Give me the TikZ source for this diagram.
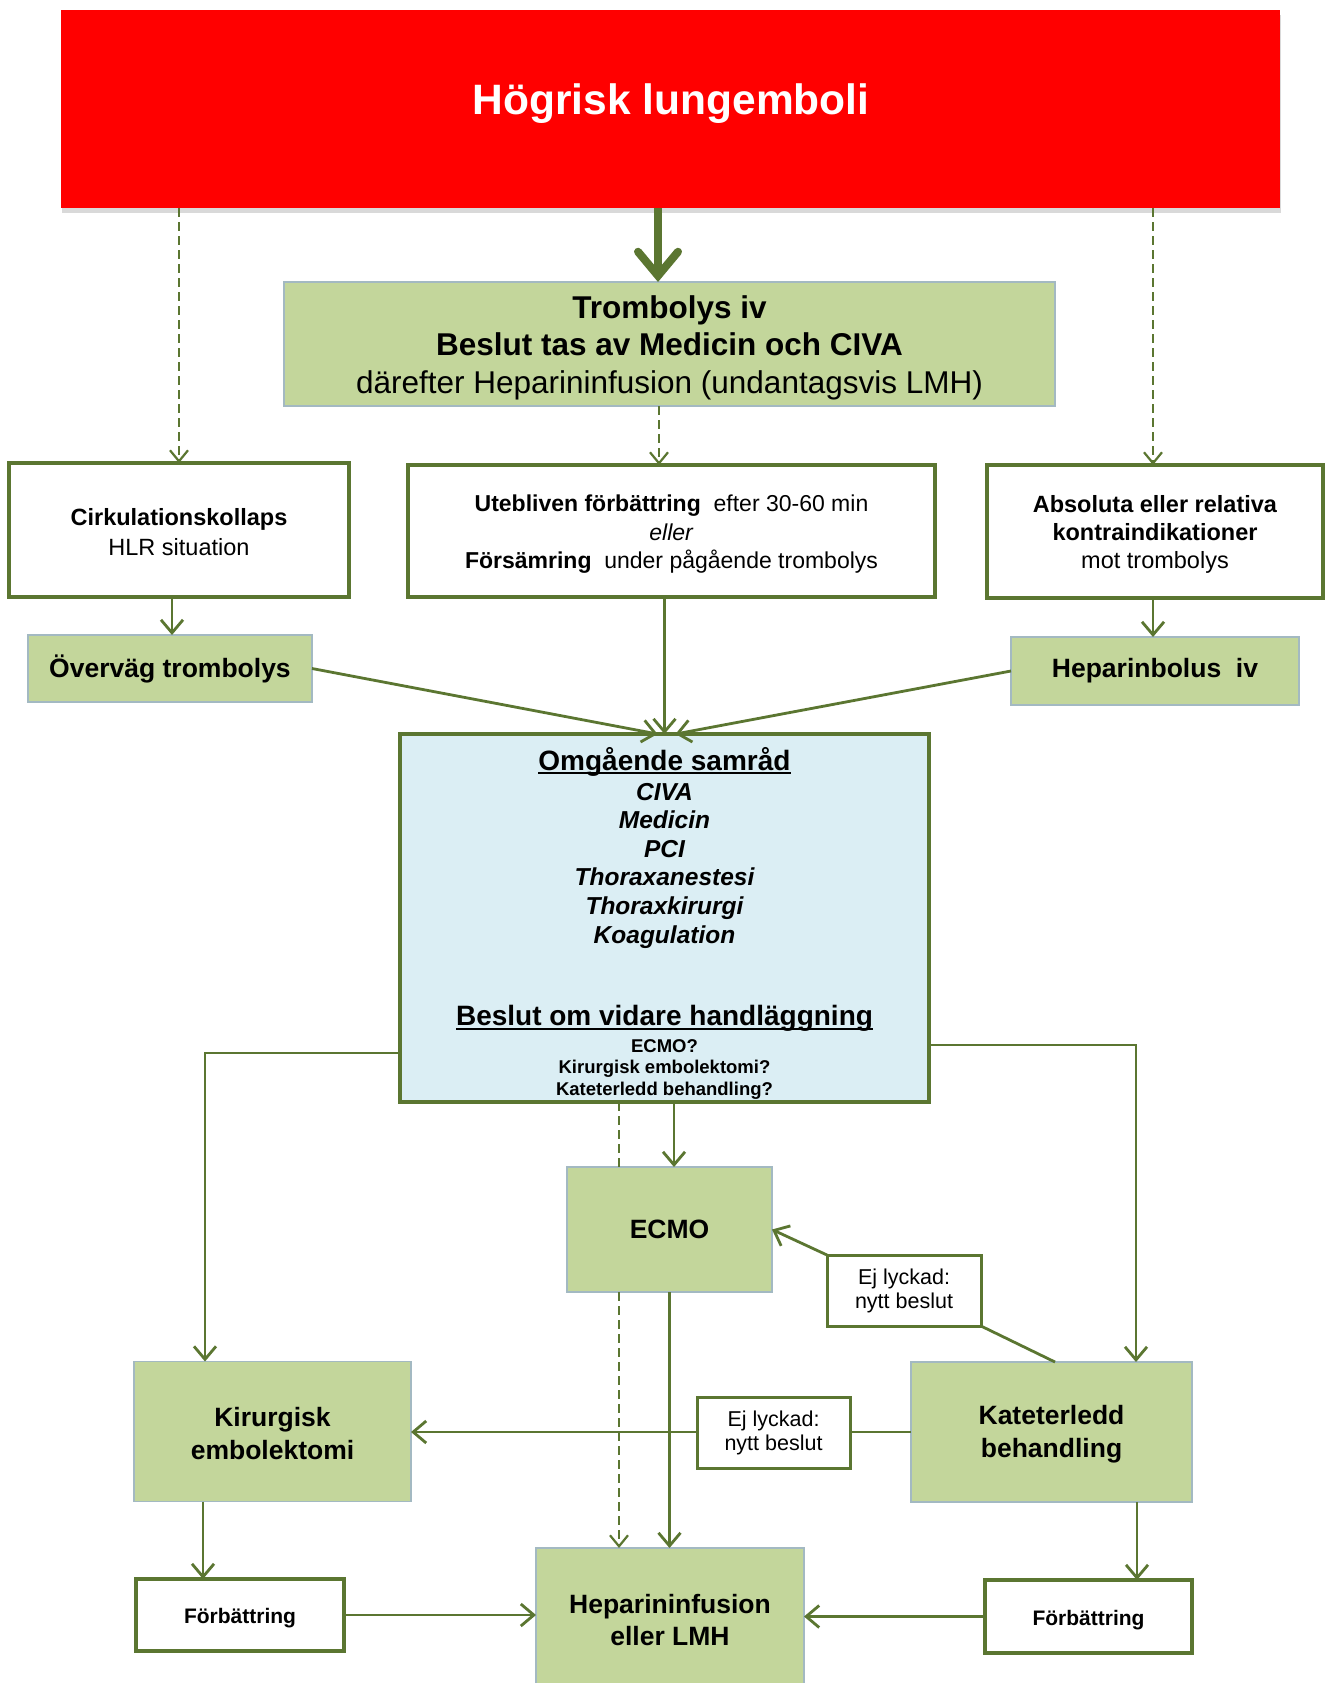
\documentclass[tikz,border=0pt]{standalone}
\usepackage{fontspec}
\setmainfont{Liberation Sans}
\usetikzlibrary{arrows.meta,shadows}
\definecolor{lgreen}{HTML}{C3D69B}
\definecolor{dgreen}{HTML}{5B7631}
\definecolor{lblue}{HTML}{DBEEF4}
\definecolor{gborder}{HTML}{A3B9C2}
\definecolor{hred}{HTML}{FF0000}
\begin{document}
\begin{tikzpicture}[x=1pt,y=-1pt,
  every node/.style={inner sep=0pt,outer sep=0pt,text=black},
  whitebox/.style={draw=dgreen,line width=3.5pt,fill=white,align=center},
  greenbox/.style={draw=gborder,line width=1.2pt,fill=lgreen,align=center},
  conn/.style={draw=dgreen,line width=2.8pt},
  arr/.style={conn,-{Straight Barb[length=13pt,width=22pt]}},
  dline/.style={draw=dgreen,line width=2.2pt,dash pattern=on 9pt off 5pt},
  darr/.style={dline,-{Straight Barb[length=11pt,width=18pt]}},
  btext/.style={anchor=base,font=\fontsize{24.5}{28}\selectfont\bfseries\itshape},
  stext/.style={anchor=base,font=\fontsize{18.5}{21}\selectfont\bfseries},
  ]
\useasboundingbox (0,0) rectangle (1325,1683);
\fill[white] (0,0) rectangle (1325,1683);

% top
\node[fill=hred,minimum width=1219pt,minimum height=198pt,
  drop shadow={shadow xshift=1pt,shadow yshift=-5pt,fill=black,opacity=0.15}] (top) at (670.5,109) {};
\node[text=white,font=\fontsize{42.5}{50}\selectfont\bfseries] (toptext) at (671,103.5) {Högrisk lungemboli};

\node[greenbox,minimum width=771pt,minimum height=124pt] (tromb) at (669.5,344) {};
\node[align=center,font=\fontsize{31.5}{37.5}\selectfont] (trombtext) at ([yshift=-3.5pt]tromb.center)
  {\textbf{Trombolys iv}\\\textbf{Beslut tas av Medicin och CIVA}\\därefter Heparininfusion (undantagsvis LMH)};

\draw[draw=dgreen,line width=8pt,-{Straight Barb[length=24pt,width=40pt,line cap=round]}]
  ([xshift=-12.5pt]top.south) -- ([xshift=-11.5pt]tromb.north);

% row 2
\node[whitebox,minimum width=340pt,minimum height=134pt] (cirk) at (179,530) {};
\node[align=center,font=\fontsize{23.5}{30}\selectfont] (cirktext) at ([yshift=-2.5pt]cirk.center)
  {\textbf{Cirkulationskollaps}\\HLR situation};
\node[whitebox,minimum width=527pt,minimum height=132pt] (uteb) at (671.5,531) {};
\node[align=center,font=\fontsize{23}{28.5}\selectfont] (utebtext) at ([yshift=-3.5pt]uteb.center)
  {\textbf{Utebliven förbättring}\ \ efter 30-60 min\\\textit{eller}\\\textbf{Försämring}\ \ under pågående trombolys};
\node[whitebox,minimum width=336pt,minimum height=133pt] (abs) at (1155,531.5) {};
\node[align=center,font=\fontsize{23.5}{28}\selectfont] (abstext) at ([yshift=-2.5pt]abs.center)
  {\textbf{Absoluta eller relativa}\\\textbf{kontraindikationer}\\mot trombolys};

\coordinate (dm) at (659,0);
\draw[darr] (top.south -| cirk.north) -- (cirk.north);
\draw[darr] (tromb.south -| dm) -- (uteb.north -| dm);
\draw[darr] ([xshift=-2pt]top.south -| abs.north) -- ([xshift=-2pt]abs.north);

% row 3
\node[greenbox,minimum width=284pt,minimum height=67pt,font=\fontsize{26.5}{32}\selectfont\bfseries] (overv) at (170,668.5) {Överväg trombolys};
\node[greenbox,minimum width=288pt,minimum height=68pt,font=\fontsize{26.5}{32}\selectfont\bfseries] (hepb) at (1155,671) {Heparinbolus\ \ iv};

\draw[arr] ([xshift=-7pt]cirk.south) -- ([xshift=-7pt]cirk.south |- overv.north);
\draw[arr] ([xshift=-2pt]abs.south) -- ([xshift=-2pt]abs.south |- hepb.north);

% consult box
\node[draw=dgreen,line width=3.5pt,fill=lblue,minimum width=529pt,minimum height=368pt] (samrad) at (664.5,918) {};

\draw[arr] (uteb.south -| samrad.north) -- (samrad.north);
\draw[arr] (overv.east) -- ([xshift=-7pt]samrad.north);
\draw[arr] (hepb.west) -- ([xshift=11pt]samrad.north);

\node[anchor=base,font=\fontsize{28}{32}\selectfont\bfseries] (s1) at (664.5,770) {Omgående samråd};
\draw[black,line width=1.6pt] ([yshift=-3pt]s1.base west) -- ([yshift=-3pt]s1.base east);
\node[btext] (s2) at (664.5,800) {CIVA};
\node[btext] (s3) at (664.5,828.5) {Medicin};
\node[btext] (s4) at (664.5,857) {PCI};
\node[btext] (s5) at (664.5,885.5) {Thoraxanestesi};
\node[btext] (s6) at (664.5,914) {Thoraxkirurgi};
\node[btext] (s7) at (664.5,943) {Koagulation};
\node[anchor=base,font=\fontsize{28}{32}\selectfont\bfseries] (s8) at (664.5,1025) {Beslut om vidare handläggning};
\draw[black,line width=1.6pt] ([yshift=-4pt]s8.base west) -- ([yshift=-4pt]s8.base east);
\node[stext] (s9) at (664.5,1052) {ECMO?};
\node[stext] (s10) at (664.5,1073.5) {Kirurgisk embolektomi?};
\node[stext] (s11) at (664.5,1095) {Kateterledd behandling?};

% lower nodes
\node[greenbox,minimum width=205pt,minimum height=125pt,font=\fontsize{26.5}{30}\selectfont\bfseries] (ecmo) at (669.5,1229.5) {ECMO};
\node[greenbox,minimum width=277pt,minimum height=140pt] (kir) at (272.5,1431.5) {};
\node[align=center,font=\fontsize{26.5}{32.5}\selectfont\bfseries] (kirtext) at ([yshift=-2pt]kir.center) {Kirurgisk\\embolektomi};
\node[greenbox,minimum width=281pt,minimum height=140pt] (kat) at (1051.5,1432) {};
\node[align=center,font=\fontsize{26.5}{32.5}\selectfont\bfseries] (kattext) at ([yshift=-2pt]kat.center) {Kateterledd\\behandling};
\node[greenbox,minimum width=268pt,minimum height=144pt,font=\fontsize{26.5}{32}\selectfont\bfseries] (hep) at (670,1620) {Heparininfusion\\eller LMH};
\node[whitebox,minimum width=208pt,minimum height=72pt] (forb1) at (240,1615) {};
\node[font=\fontsize{21}{24}\selectfont\bfseries] (forb1text) at ([yshift=-3pt]forb1.center) {Förbättring};
\node[whitebox,minimum width=207pt,minimum height=73pt] (forb2) at (1088.5,1616.5) {};
\node[font=\fontsize{21}{24}\selectfont\bfseries] (forb2text) at ([yshift=-4pt]forb2.center) {Förbättring};
\node[whitebox,line width=3pt,minimum width=154pt,minimum height=71pt,font=\fontsize{21.5}{24}\selectfont] (ej1) at (904,1290.5) {Ej lyckad:\\nytt beslut};
\node[whitebox,line width=3pt,minimum width=153pt,minimum height=71pt,font=\fontsize{21.5}{24}\selectfont] (ej2) at (773.5,1432.5) {Ej lyckad:\\nytt beslut};

% connectors from consult box
\coordinate (kl) at (205,1053);
\coordinate (kr) at (1136,1045);
\coordinate (ex) at (674,0);
\coordinate (dx) at (619,0);
\draw[arr] (samrad.west |- kl) -- (kl) -- (kl |- kir.north);
\draw[arr] (samrad.east |- kr) -- (kr) -- (kr |- kat.north);
\draw[arr] (samrad.south -| ex) -- (ecmo.north -| ex);
\draw[dline] (samrad.south -| dx) -- (ecmo.north -| dx);
\draw[darr] (ecmo.south -| dx) -- (hep.north -| dx);
\draw[arr] (ecmo.south) -- (ecmo.south |- hep.north);

% failure loops
\draw[conn] ([xshift=3.5pt]kat.north) -- (ej1.south east);
\draw[arr] (ej1.north west) -- (ecmo.east);
\draw[conn] (kat.west) -- (kat.west -| ej2.east);
\draw[arr] (kat.west -| ej2.west) -- (kat.west -| kir.east);

% improvement
\coordinate (kf) at (203,0);
\coordinate (kf2) at (1137,0);
\draw[arr] (kir.south -| kf) -- (forb1.north -| kf);
\draw[arr] (kat.south -| kf2) -- (forb2.north -| kf2);
\draw[arr] (forb1.east) -- (forb1.east -| hep.west);
\draw[arr] (forb2.west) -- (forb2.west -| hep.east);
\end{tikzpicture}
\end{document}
